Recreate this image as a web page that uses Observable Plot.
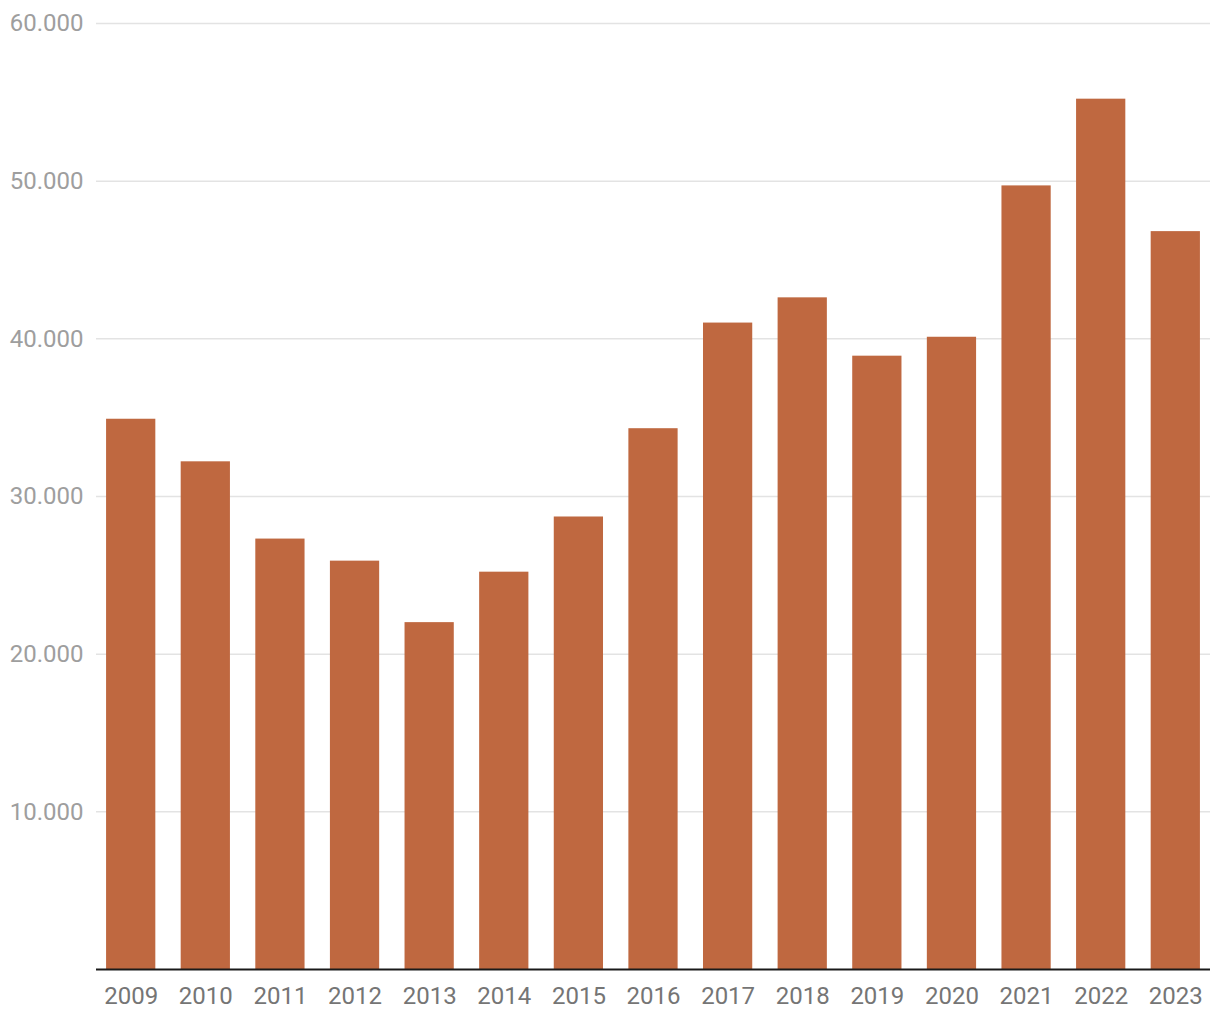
<!DOCTYPE html>
<html>
<head>
<meta charset="utf-8">
<script src="https://cdn.jsdelivr.net/npm/d3@7"></script>
<script src="https://cdn.jsdelivr.net/npm/@observablehq/plot@0.6"></script>
<style>
  html, body { margin: 0; padding: 0; background: #fff; }
  #chart { width: 1220px; height: 1020px; }
</style>
</head>
<body>
<div id="chart"></div>
<script>
const years = ["2009","2010","2011","2012","2013","2014","2015","2016","2017","2018","2019","2020","2021","2022","2023"];
const values = [34900, 32200, 27300, 25900, 22000, 25200, 28700, 34300, 41000, 42600, 38900, 40100, 49700, 55200, 46800];
const yTicks = [10000, 20000, 30000, 40000, 50000, 60000];

const data = years.map((y, i) => ({year: y, value: values[i]}));
const de = d3.formatLocale({decimal: ",", thousands: ".", grouping: [3], currency: ["", " €"]});
const fmt = de.format(",d");

const chart = Plot.plot({
  width: 1220,
  height: 1020,
  marginTop: 23,
  marginBottom: 51,
  marginLeft: 96,
  marginRight: 10,
  style: {fontFamily: "Roboto", fontSize: "24px", background: "#fff"},
  x: {domain: years, paddingInner: 0.34, paddingOuter: 0.135, round: false, label: null},
  y: {domain: [0, 60000], label: null},
  marks: [
    Plot.gridY(yTicks, {stroke: "#e3e3e3", strokeOpacity: 1, strokeWidth: 1.5}),
    Plot.barY(data, {x: "year", y: "value", fill: "#bf6840"}),
    Plot.ruleY([0], {stroke: "#1a1a1a", strokeWidth: 2}),
    Plot.axisY(yTicks, {tickSize: 0, tickPadding: 13, tickFormat: fmt, color: "#9e9e9e", fontSize: 24, label: null}),
    Plot.axisX({tickSize: 0, tickPadding: 17, color: "#757575", fontSize: 24, label: null})
  ]
});
document.getElementById("chart").appendChild(chart);
</script>
</body>
</html>
